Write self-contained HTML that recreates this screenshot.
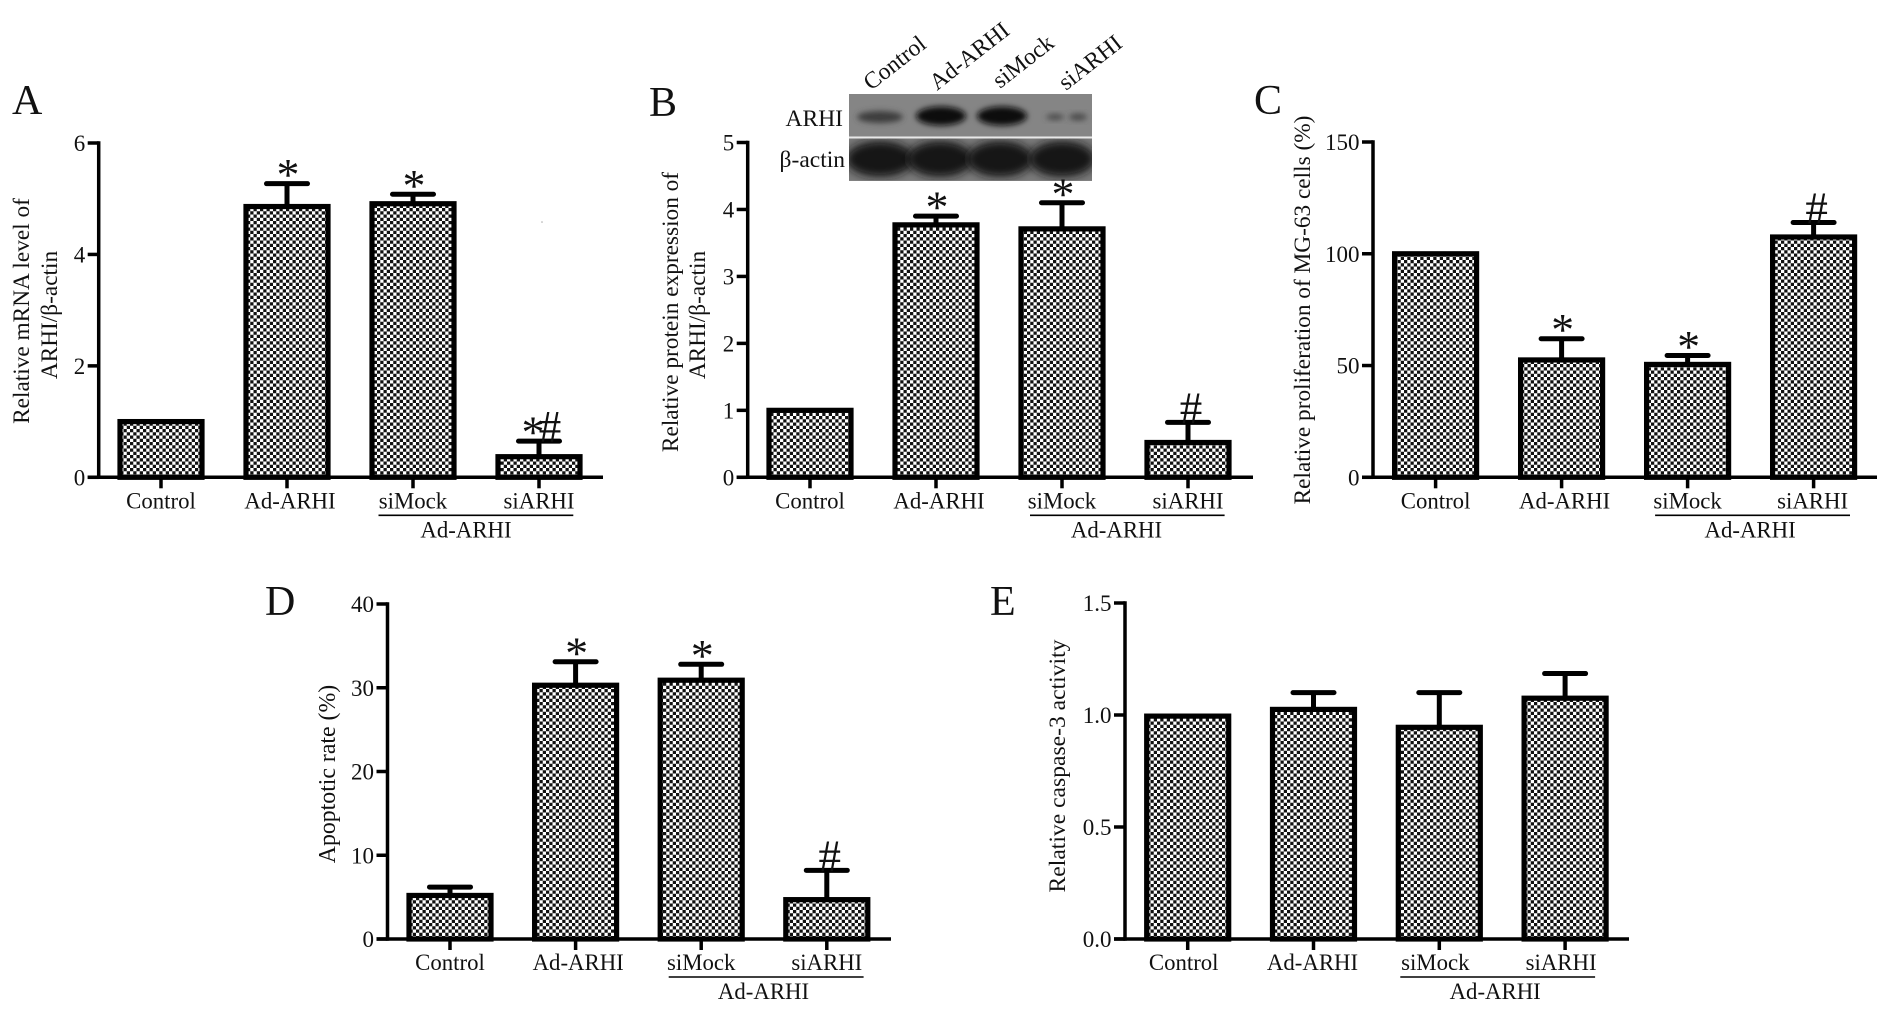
<!DOCTYPE html>
<html lang="en">
<head>
<meta charset="utf-8">
<title>ARHI bar chart figure</title>
<style>
html,body{margin:0;padding:0;background:#fff;}
svg{display:block;font-family:"Liberation Serif","DejaVu Serif",serif;fill:#111;filter:blur(0.35px);}
</style>
</head>
<body>
<svg id="figure" xmlns="http://www.w3.org/2000/svg" width="1890" height="1024" viewBox="0 0 1890 1024">
<defs>
<pattern id="checker" patternUnits="userSpaceOnUse" width="6.5" height="6.5">
<rect width="6.5" height="6.5" fill="#fff"/>
<rect width="3.25" height="3.25" fill="#111"/>
<rect x="3.25" y="3.25" width="3.25" height="3.25" fill="#111"/>
</pattern>
<filter id="blur3" x="-30%" y="-60%" width="160%" height="220%"><feGaussianBlur stdDeviation="3"/></filter>
<filter id="blur5" x="-30%" y="-40%" width="160%" height="180%"><feGaussianBlur stdDeviation="4.5"/></filter>
<clipPath id="blot-top-clip"><rect x="849" y="94" width="243" height="42"/></clipPath>
<clipPath id="blot-bottom-clip"><rect x="849" y="138.5" width="243" height="42"/></clipPath>
</defs>
<rect width="1890" height="1024" fill="#fff"/>

<text x="12" y="114" font-size="42">A</text>
<text x="649" y="116" font-size="42">B</text>
<text x="1254" y="114" font-size="42">C</text>
<text x="265" y="615" font-size="42">D</text>
<text x="990" y="615" font-size="42">E</text>

<text font-size="23.3" text-anchor="middle" transform="translate(29 311) rotate(-90)">Relative mRNA level of</text>
<text font-size="23.3" text-anchor="middle" transform="translate(57 315) rotate(-90)">ARHI/β-actin</text>
<text font-size="23.3" text-anchor="middle" transform="translate(678 312) rotate(-90)">Relative protein expression of</text>
<text font-size="23.3" text-anchor="middle" transform="translate(705 315) rotate(-90)">ARHI/β-actin</text>
<text font-size="23.3" text-anchor="middle" transform="translate(1310 310) rotate(-90)">Relative proliferation of MG-63 cells (%)</text>
<text font-size="23.8" text-anchor="middle" transform="translate(335 774) rotate(-90)">Apoptotic rate (%)</text>
<text font-size="23.6" text-anchor="middle" transform="translate(1065 766) rotate(-90)">Relative caspase-3 activity</text>

<g>
<rect x="849" y="94" width="243" height="87" fill="#8a8a8a"/>
<g clip-path="url(#blot-top-clip)">
<rect x="849" y="94" width="243" height="42" fill="#858585"/>
<ellipse cx="880" cy="117" rx="23" ry="6" fill="#3c3c3c" filter="url(#blur3)"/>
<ellipse cx="941" cy="116" rx="25" ry="9.5" fill="#0c0c0c" filter="url(#blur3)"/>
<ellipse cx="1002" cy="116" rx="25" ry="9.5" fill="#0c0c0c" filter="url(#blur3)"/>
<ellipse cx="1055" cy="117" rx="9" ry="3" fill="#4a4a4a" filter="url(#blur3)"/>
<ellipse cx="1078" cy="117" rx="9" ry="3.5" fill="#4a4a4a" filter="url(#blur3)"/>
</g>
<rect x="849" y="136.5" width="243" height="2" fill="#e8e8e8"/>
<g clip-path="url(#blot-bottom-clip)">
<rect x="849" y="138.5" width="243" height="42" fill="#7a7a7a"/>
<ellipse cx="880" cy="159" rx="34" ry="18" fill="#141414" filter="url(#blur5)"/>
<ellipse cx="940" cy="159" rx="33" ry="18" fill="#141414" filter="url(#blur5)"/>
<ellipse cx="1000" cy="159" rx="33" ry="18" fill="#141414" filter="url(#blur5)"/>
<ellipse cx="1062" cy="159" rx="33" ry="18" fill="#141414" filter="url(#blur5)"/>
</g>
<text x="843" y="126" font-size="23.5" text-anchor="end">ARHI</text>
<text x="845" y="167" font-size="23.5" text-anchor="end">β-actin</text>
<text font-size="23.5" transform="translate(871 91) rotate(-38)">Control</text>
<text font-size="23.5" transform="translate(937 91) rotate(-38)">Ad-ARHI</text>
<text font-size="23.5" transform="translate(1000 89) rotate(-38)">siMock</text>
<text font-size="23.5" transform="translate(1066 91) rotate(-38)">siARHI</text>
</g>

<g id="panel-a"></g>
<g id="panel-b"></g>
<g id="panel-c"></g>
<g id="panel-d"></g>
<g id="panel-e"></g>
<circle cx="542" cy="222" r="0.8" fill="#aaa"/>
</svg>

<script>
const categories = ['Control', 'Ad-ARHI', 'siMock', 'siARHI'];
const groupLabel = 'Ad-ARHI';

const panelAValues = [1, 4.86, 4.91, 0.37];
const panelAErrors = [0, 0.41, 0.17, 0.28];
const panelATicks = [0, 2, 4, 6];
const panelATickLabels = ['0', '2', '4', '6'];
const panelAMarks = ['', '*', '*', '*#'];

const panelBValues = [1, 3.77, 3.71, 0.52];
const panelBErrors = [0, 0.13, 0.39, 0.3];
const panelBTicks = [0, 1, 2, 3, 4, 5];
const panelBTickLabels = ['0', '1', '2', '3', '4', '5'];
const panelBMarks = ['', '*', '*', '#'];

const panelCValues = [100, 52.5, 50.5, 107.5];
const panelCErrors = [0, 9.5, 4, 6.5];
const panelCTicks = [0, 50, 100, 150];
const panelCTickLabels = ['0', '50', '100', '150'];
const panelCMarks = ['', '*', '*', '#'];

const panelDValues = [5.2, 30.3, 30.9, 4.7];
const panelDErrors = [1, 2.8, 1.9, 3.5];
const panelDTicks = [0, 10, 20, 30, 40];
const panelDTickLabels = ['0', '10', '20', '30', '40'];
const panelDMarks = ['', '*', '*', '#'];

const panelEValues = [0.995, 1.025, 0.945, 1.075];
const panelEErrors = [0, 0.075, 0.155, 0.11];
const panelETicks = [0, 0.5, 1, 1.5];
const panelETickLabels = ['0.0', '0.5', '1.0', '1.5'];
const panelEMarks = ['', '', '', ''];

const NS = 'http://www.w3.org/2000/svg';

function make(parent, tag, props, text) {
  const el = document.createElementNS(NS, tag);
  for (const k in props) el.setAttribute(k, props[k]);
  if (text !== undefined) el.textContent = text;
  parent.appendChild(el);
  return el;
}

function renderPanel(p) {
  const root = document.getElementById(p.id);
  const y = v => p.base - v / p.ticks[p.ticks.length - 1] * (p.base - p.top);
  const x = i => p.first + i * p.step;

  p.values.forEach((v, i) => {
    const cx = x(i);
    const errTop = y(v + p.errors[i]);
    if (p.errors[i] > 0) {
      const stem = make(root, 'line', {x1: cx, x2: cx, y1: y(v), y2: errTop, stroke: '#000', 'stroke-width': 5});
      
      
      const cap = make(root, 'line', {x1: cx - 20.5, x2: cx + 20.5, y1: errTop, y2: errTop, stroke: '#000', 'stroke-width': 5, 'stroke-linecap': 'round'});
      
      
    }
    const bar = make(root, 'rect', {x: cx - 41, y: y(v), width: 82, height: p.base - y(v), fill: 'url(#checker)', stroke: '#000', 'stroke-width': 5.2});
    
    

    const chars = p.marks[i].split('');
    chars.forEach((ch, j) => {
      const dx = chars.length > 1 ? (j === 0 ? -6 : 11) : (ch === '#' ? 3 : 1);
      const by = ch === '#' ? errTop + 1 : errTop - 15 + 21.5;
      const mark = make(root, 'text', {x: cx + dx, y: by, 'font-size': ch === '#' ? 45 : 46, 'text-anchor': 'middle'}, ch);
      
      
    });

    const tick = make(root, 'line', {x1: cx, x2: cx, y1: p.base, y2: p.base + 11, stroke: '#000', 'stroke-width': 3.5});
    
    

    const label = make(root, 'text', {x: cx + p.labelDx[i], y: p.base + 31, 'font-size': 22.8, 'text-anchor': 'middle'}, categories[i]);
    
    
  });

  const yAxis = make(root, 'line', {x1: p.axisX, x2: p.axisX, y1: p.top - 1.7, y2: p.base + 1.7, stroke: '#000', 'stroke-width': 3.5});
  
  

  const xAxis = make(root, 'line', {x1: p.axisX - 11, x2: p.axisEnd, y1: p.base, y2: p.base, stroke: '#000', 'stroke-width': 3.5});
  
  

  p.ticks.forEach((t, i) => {
    const tick = make(root, 'line', {x1: p.axisX - 11, x2: p.axisX, y1: y(t), y2: y(t), stroke: '#000', 'stroke-width': 3.5});
    
    
    const label = make(root, 'text', {x: p.axisX - 13.5, y: y(t) + 8, 'font-size': 23, 'text-anchor': 'end'}, p.tickLabels[i]);
    
    
  });

  const rule = make(root, 'line', {x1: x(2) + p.ruleDx[0], x2: x(3) + p.ruleDx[1], y1: p.base + 38, y2: p.base + 38, stroke: '#000', 'stroke-width': 1.6});
  
  

  const group = make(root, 'text', {x: (x(2) + x(3)) / 2 + p.groupDx, y: p.base + 60, 'font-size': 22.8, 'text-anchor': 'middle'}, groupLabel);
  
  
}

renderPanel({id: 'panel-a', values: panelAValues, errors: panelAErrors, ticks: panelATicks, tickLabels: panelATickLabels, marks: panelAMarks,
  axisX: 98.7, axisEnd: 603, top: 143, base: 477.3, first: 161, step: 126, labelDx: [0, 3, 0, 0], ruleDx: [-34.5, 34.3], groupDx: -10});
renderPanel({id: 'panel-b', values: panelBValues, errors: panelBErrors, ticks: panelBTicks, tickLabels: panelBTickLabels, marks: panelBMarks,
  axisX: 747.7, axisEnd: 1253, top: 142.5, base: 477.3, first: 810, step: 126, labelDx: [0, 3, 0, 0], ruleDx: [-32, 36.6], groupDx: -8.5});
renderPanel({id: 'panel-c', values: panelCValues, errors: panelCErrors, ticks: panelCTicks, tickLabels: panelCTickLabels, marks: panelCMarks,
  axisX: 1373, axisEnd: 1877, top: 142, base: 477.3, first: 1435.6, step: 126, labelDx: [0, 3, 0, -1], ruleDx: [-32.5, 36.4], groupDx: -0.5});
renderPanel({id: 'panel-d', values: panelDValues, errors: panelDErrors, ticks: panelDTicks, tickLabels: panelDTickLabels, marks: panelDMarks,
  axisX: 387.5, axisEnd: 891, top: 604, base: 939, first: 450, step: 125.6, labelDx: [0, 2.6, 0, 0], ruleDx: [-32.5, 36.8], groupDx: -0.5});
renderPanel({id: 'panel-e', values: panelEValues, errors: panelEErrors, ticks: panelETicks, tickLabels: panelETickLabels, marks: panelEMarks,
  axisX: 1125, axisEnd: 1629, top: 603, base: 939, first: 1187.7, step: 125.8, labelDx: [-4, -1, -4, -4], ruleDx: [-39, 30], groupDx: -7});
</script>
</body>
</html>
